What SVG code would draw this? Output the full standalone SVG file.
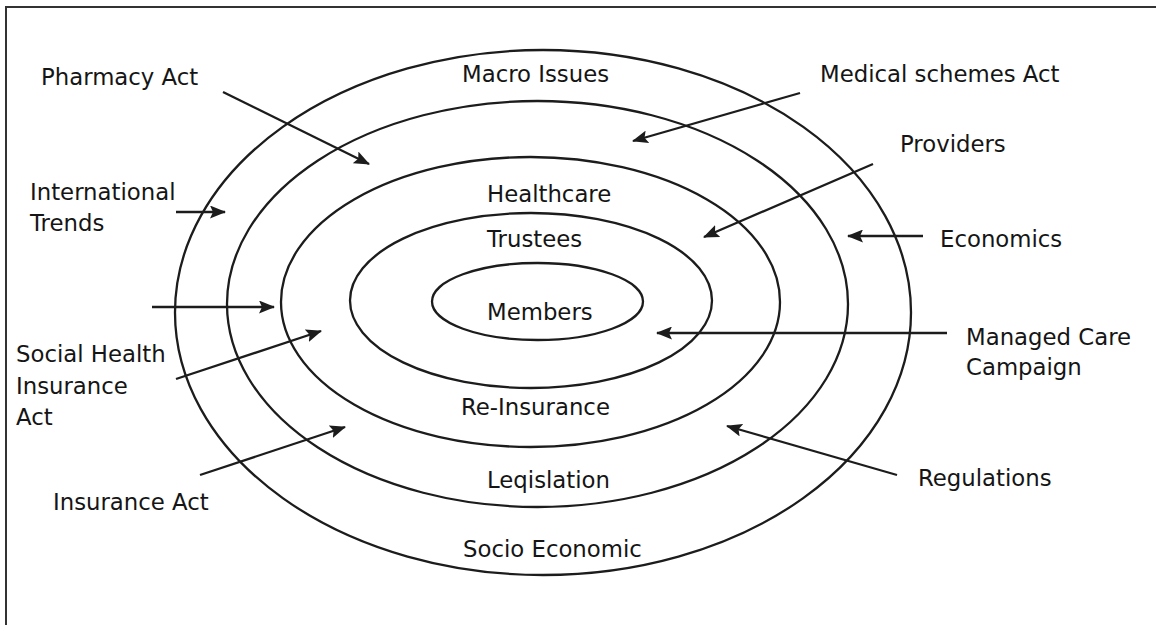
<svg xmlns="http://www.w3.org/2000/svg" width="1156" height="625" viewBox="0 0 1156 625">
<style>
  .ring{fill:none;stroke:#1c1c1c;stroke-width:2.3}
  .frame{fill:none;stroke:#333;stroke-width:2}
  .arr{fill:none;stroke:#1c1c1c;stroke-width:2.3;marker-end:url(#ah)}
  text{font-family:"DejaVu Sans","Verdana",sans-serif;font-size:22.8px;fill:#151515}
</style>
<defs>
  <marker id="ah" viewBox="0 0 16 13" refX="15" refY="6.5" markerWidth="16" markerHeight="13" markerUnits="userSpaceOnUse" orient="auto">
    <path d="M0,0 L16,6.5 L0,13 L3,6.5 Z" fill="#1c1c1c"/>
  </marker>
</defs>
<rect width="1156" height="625" fill="#fff"/>
<path class="frame" d="M6,625 L6,7 L1156,7"/>

<g id="ring-socio-economic"><ellipse class="ring" cx="543" cy="312.5" rx="368" ry="262.5"/></g>
<g id="ring-legislation"><ellipse class="ring" cx="537.5" cy="304" rx="310.5" ry="203"/></g>
<g id="ring-healthcare"><ellipse class="ring" cx="530.5" cy="302" rx="249.5" ry="145"/></g>
<g id="ring-trustees"><ellipse class="ring" cx="531" cy="300.5" rx="181" ry="87.5"/></g>
<g id="members"><ellipse class="ring" cx="537.5" cy="301.5" rx="105.5" ry="38.5"/><text x="487" y="319.5">Members</text></g>

<g id="ring-labels">
  <text x="462" y="82">Macro Issues</text>
  <text x="487" y="202">Healthcare</text>
  <text x="487" y="247">Trustees</text>
  <text x="461" y="415">Re-Insurance</text>
  <text x="487" y="488">Leqislation</text>
  <text x="463" y="557">Socio Economic</text>
</g>

<g id="pharmacy-act"><text x="41" y="85">Pharmacy Act</text></g>
<g id="medical-schemes-act"><text x="820" y="82">Medical schemes Act</text></g>
<g id="providers"><text x="900" y="152">Providers</text></g>
<g id="international-trends"><text x="30" y="200">International</text><text x="30" y="231">Trends</text></g>
<g id="economics"><text x="940" y="247">Economics</text></g>
<g id="managed-care-campaign"><text x="966" y="345">Managed Care</text><text x="966" y="375">Campaign</text></g>
<g id="social-health-insurance-act"><text x="16" y="362">Social Health</text><text x="16" y="394">Insurance</text><text x="16" y="425">Act</text></g>
<g id="insurance-act"><text x="53" y="510">Insurance Act</text></g>
<g id="regulations"><text x="918" y="486">Regulations</text></g>

<g id="connectors">
  <line class="arr" x1="223" y1="92" x2="369" y2="164"/>
  <line class="arr" x1="800" y1="93" x2="633" y2="141"/>
  <line class="arr" x1="873" y1="164" x2="704" y2="237"/>
  <line class="arr" x1="923" y1="236" x2="848" y2="236"/>
  <line class="arr" x1="176" y1="212" x2="225" y2="212"/>
  <line class="arr" x1="152" y1="307" x2="274" y2="307"/>
  <line class="arr" x1="176" y1="379" x2="321" y2="331"/>
  <line class="arr" x1="200" y1="475" x2="345" y2="427"/>
  <line class="arr" x1="947" y1="333" x2="657" y2="333"/>
  <line class="arr" x1="897" y1="475" x2="727" y2="426"/>
</g>
</svg>
